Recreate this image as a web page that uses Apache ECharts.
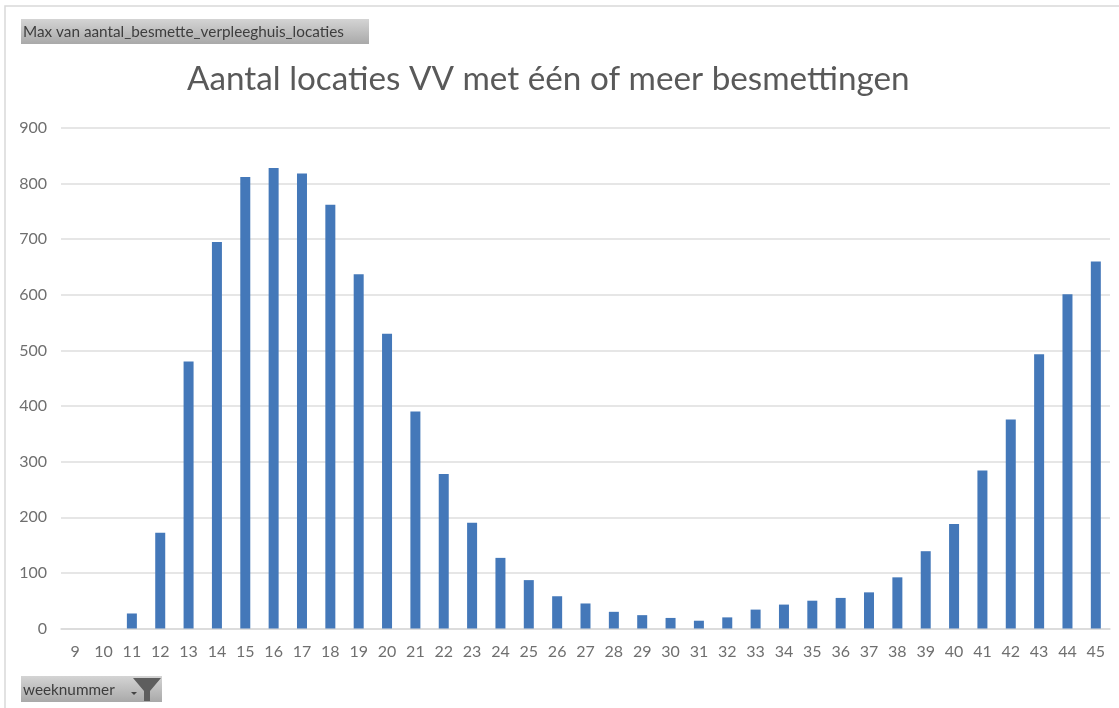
<!DOCTYPE html>
<html><head><meta charset="utf-8">
<style>html,body{margin:0;padding:0;background:#fff}#c{width:1119px;height:708px}</style>
<script src="https://cdn.jsdelivr.net/npm/echarts@6/dist/echarts.min.js"></script>
</head><body><div id="c"></div>
<script>
const weeks = ['9','10','11','12','13','14','15','16','17','18','19','20','21','22','23','24','25','26','27','28','29','30','31','32','33','34','35','36','37','38','39','40','41','42','43','44','45'];
const locaties = [null,null,27,172,480,695,812,828,818,762,637,530,390,278,190,127,87,58,45,30,24,19,14,20,34,43,50,55,65,92,139,188,284,376,493,601,660];
const titleText = 'Aantal locaties VV met één of meer besmettingen';
const fieldButton = 'Max van aantal_besmette_verpleeghuis_locaties';
const axisButton = 'weeknummer';
const FONT = 'Lato, "Open Sans", sans-serif';
const grey = {type:'linear',x:0,y:0,x2:0,y2:1,colorStops:[{offset:0,color:'#d4d4d4'},{offset:1,color:'#a9a9a9'}]};
const chart = echarts.init(document.getElementById('c'), null, {renderer:'canvas'});
chart.setOption({
  animation:false,
  backgroundColor:'#fff',
  title:{text:titleText,left:182,top:58,
    textStyle:{fontFamily:FONT,fontWeight:'normal',fontSize:33.25,color:'#595959'}},
  grid:{left:61,right:9,top:128,bottom:79.5,containLabel:false},
  xAxis:{type:'category',data:weeks,
    axisTick:{show:false},
    axisLine:{lineStyle:{color:'#d9d9d9',width:1.5}},
    axisLabel:{fontFamily:FONT,fontSize:16,color:'#6f6f6f',margin:15,interval:0}},
  yAxis:{type:'value',min:0,max:900,interval:100,
    axisLine:{show:false},axisTick:{show:false},
    splitLine:{lineStyle:{color:'#dedede',width:1.5}},
    axisLabel:{fontFamily:FONT,fontSize:16,color:'#6f6f6f',margin:14}},
  series:[{type:'bar',data:locaties,barWidth:10,itemStyle:{color:'#4478b9'}}],
  graphic:[
    {type:'rect',z:0,shape:{x:5,y:6,width:1130,height:720},style:{fill:'none',stroke:'#d9d9d9',lineWidth:1.5}},
    {type:'rect',z:5,shape:{x:21,y:19,width:348,height:25},style:{fill:grey}},
    {type:'text',z:6,x:23,y:32,style:{text:fieldButton,fontFamily:FONT,fontSize:15.3,fill:'#3d3d3d',verticalAlign:'middle'}},
    {type:'rect',z:5,shape:{x:21,y:676,width:141,height:26},style:{fill:grey}},
    {type:'text',z:6,x:23,y:690,style:{text:axisButton,fontFamily:FONT,fontSize:15.3,fill:'#3d3d3d',verticalAlign:'middle'}},
    {type:'polygon',z:6,shape:{points:[[131,692],[137,692],[134,695]]},style:{fill:'#444'}},
    {type:'polygon',z:6,shape:{points:[[133,678],[161,678],[150,691],[150,701],[144,701],[144,691]]},style:{fill:'#5e5e5e'}}
  ]
});
</script></body></html>
